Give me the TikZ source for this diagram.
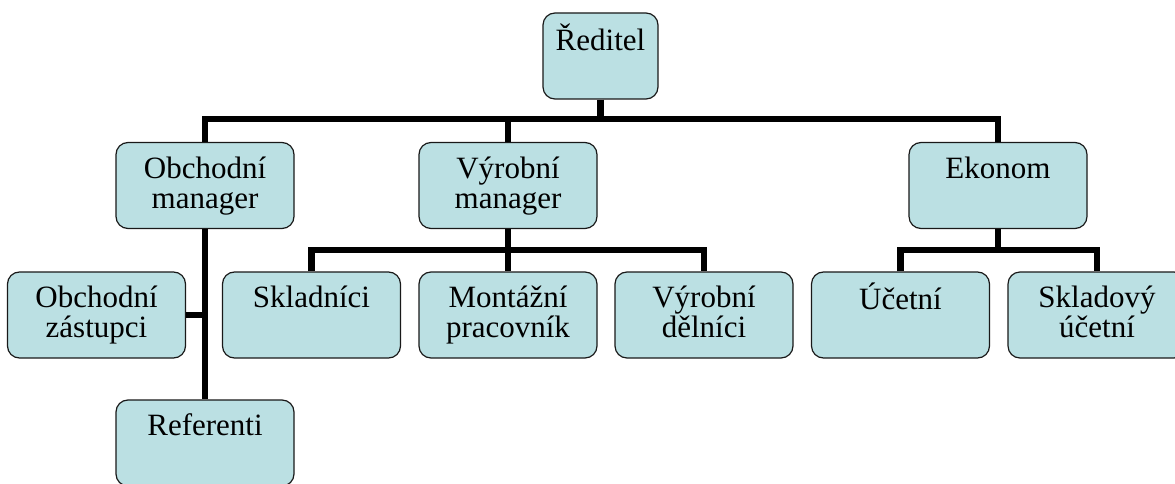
\documentclass[tikz,border=0pt]{standalone}
\usepackage{fontspec}
\setmainfont{Liberation Serif}
\definecolor{boxfill}{RGB}{187,224,227}
\newcommand{\lnst}{\rule[-7pt]{0pt}{29pt}}
\begin{document}
\begin{tikzpicture}[x=1pt,y=1pt,
  orgbox/.style={draw=black!90, line width=1.2pt, fill=boxfill, rounded corners=12pt,
    minimum width=178pt, minimum height=86pt, inner sep=0pt, text width=178pt,
    align=center, font=\fontsize{31}{30}\selectfont},
  conn/.style={line width=6.5pt, draw=black}]
\useasboundingbox (0,0) rectangle (1175,-484);
\clip (0,0) rectangle (1175,-484);
% boxes
\node[orgbox, minimum width=115pt, text width=115pt] (red) at (600.5,-56) {\lnst Ředitel\\\lnst};
\node[orgbox] (om) at (205,-185.5) {\lnst Obchodní\\\lnst manager};
\node[orgbox] (vm) at (508,-185.5) {\lnst Výrobní\\\lnst manager};
\node[orgbox] (ek) at (998,-185.5) {\lnst Ekonom\\\lnst};
\node[orgbox] (oz) at (96.5,-315) {\lnst Obchodní\\\lnst zástupci};
\node[orgbox] (skl) at (311.5,-315) {\lnst Skladníci\\\lnst};
\node[orgbox] (mon) at (508,-315) {\lnst Montážní\\\lnst pracovník};
\node[orgbox] (vd) at (704,-315) {\lnst Výrobní\\\lnst dělníci};
\node[orgbox] (uc) at (900.5,-315) {\lnst Účetní\\\lnst};
\node[orgbox] (sku) at (1097,-315) {\lnst Skladový\\\lnst účetní};
\node[orgbox] (ref) at (205,-443) {\lnst Referenti\\\lnst};
% bus coordinates
\coordinate (bus1) at (0,-119);
\coordinate (bus2) at (0,-250);
% connectors
\draw[conn] (red.south) -- (red.south |- bus1);
\draw[conn] (om.north) -- (om.north |- bus1) -- (ek.north |- bus1) -- (ek.north);
\draw[conn] (vm.north) -- (vm.north |- bus1);
\draw[conn] (om.south) -- (ref.north);
\draw[conn] (oz.east) -- (oz.east -| om.south);
\draw[conn] (vm.south) -- (mon.north);
\draw[conn] (skl.north) -- (skl.north |- bus2) -- (vd.north |- bus2) -- (vd.north);
\draw[conn] (ek.south) -- (ek.south |- bus2);
\draw[conn] (uc.north) -- (uc.north |- bus2) -- (sku.north |- bus2) -- (sku.north);
\end{tikzpicture}
\end{document}
